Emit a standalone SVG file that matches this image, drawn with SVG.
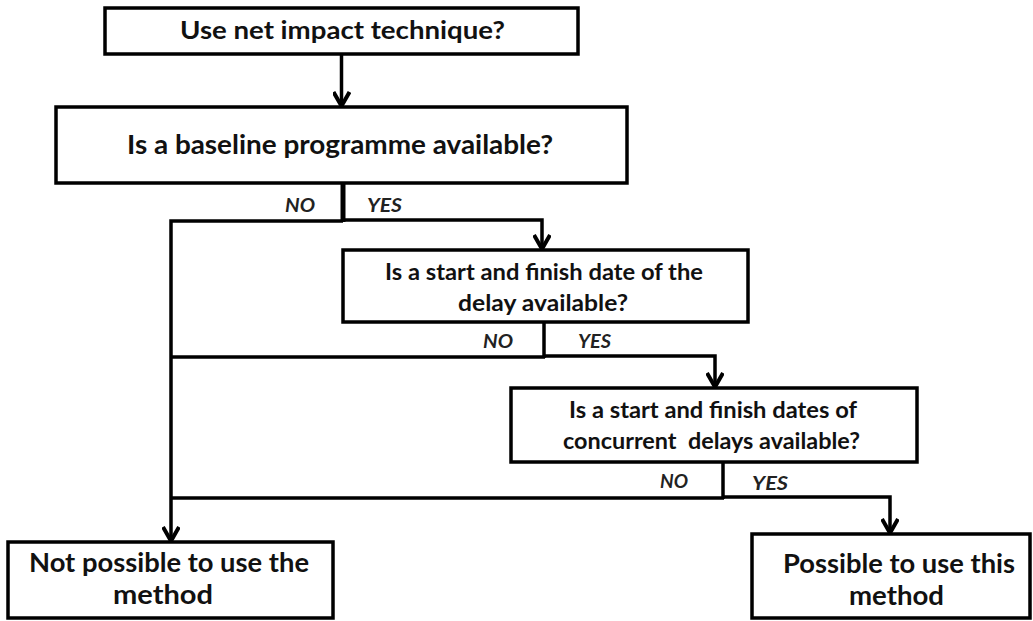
<svg xmlns="http://www.w3.org/2000/svg" width="1033" height="621" viewBox="0 0 1033 621">
  <style>
    .box { fill: #ffffff; stroke: #000000; stroke-width: 3.5; }
    .t { font-family: Lato, "Liberation Sans", sans-serif; font-weight: bold; fill: #111111; text-anchor: middle; white-space: pre; }
    .lbl { font-family: Lato, "Liberation Sans", sans-serif; font-weight: bold; font-style: italic; font-size: 18px; fill: #222222; }
    .wire { fill: none; stroke: #000000; stroke-width: 3.5; stroke-linejoin: miter; }
    .drop { stroke-width: 5; }
  </style>
  <defs>
    <marker id="arr" viewBox="0 0 18 18" markerWidth="18" markerHeight="18" refX="16" refY="9" orient="auto" markerUnits="userSpaceOnUse">
      <path d="M2,1 L16,9 L2,17" fill="none" stroke="#000000" stroke-width="4"/>
    </marker>
  </defs>
  <rect width="1033" height="621" fill="#ffffff"/>

  <g id="connectors">
    <line class="wire" x1="341.5" y1="55" x2="341.5" y2="106" marker-end="url(#arr)"/>
    <line class="wire drop" x1="343" y1="183" x2="343" y2="222"/>
    <polyline class="wire" points="343,221 171,221 171,541" marker-end="url(#arr)"/>
    <polyline class="wire" points="343,220 542,220 542,249" marker-end="url(#arr)"/>
    <line class="wire" x1="544" y1="322" x2="544" y2="358"/>
    <line class="wire" x1="545" y1="357" x2="171" y2="357"/>
    <polyline class="wire" points="544,356 715,356 715,387" marker-end="url(#arr)"/>
    <line class="wire" x1="723" y1="462" x2="723" y2="499"/>
    <line class="wire" x1="724" y1="498" x2="171" y2="498"/>
    <polyline class="wire" points="723,497 890,497 890,533" marker-end="url(#arr)"/>
    <text class="lbl" x="285" y="212" textLength="30" lengthAdjust="spacingAndGlyphs">NO</text>
    <text class="lbl" x="367" y="212" textLength="35" lengthAdjust="spacingAndGlyphs">YES</text>
    <text class="lbl" x="483" y="348" textLength="30" lengthAdjust="spacingAndGlyphs">NO</text>
    <text class="lbl" x="578" y="348" textLength="33" lengthAdjust="spacingAndGlyphs">YES</text>
    <text class="lbl" x="660" y="488" textLength="28" lengthAdjust="spacingAndGlyphs">NO</text>
    <text class="lbl" x="752" y="490" textLength="36" lengthAdjust="spacingAndGlyphs">YES</text>
  </g>

  <g id="start">
    <rect class="box" x="105" y="8" width="473" height="46"/>
    <text class="t" x="342.5" y="39" font-size="24" textLength="325" lengthAdjust="spacingAndGlyphs">Use net impact technique?</text>
  </g>

  <g id="baseline">
    <rect class="box" x="56" y="107" width="571" height="76"/>
    <text class="t" x="340" y="154" font-size="26" textLength="426" lengthAdjust="spacingAndGlyphs">Is a baseline programme available?</text>
  </g>

  <g id="delay-dates">
    <rect class="box" x="343" y="250" width="405" height="72"/>
    <text class="t" x="544" y="280" font-size="22.5" textLength="318" lengthAdjust="spacingAndGlyphs">Is a start and finish date of the</text>
    <text class="t" x="543" y="311" font-size="22.5" textLength="170" lengthAdjust="spacingAndGlyphs">delay available?</text>
  </g>

  <g id="concurrent-dates">
    <rect class="box" x="511" y="388" width="406" height="74"/>
    <text class="t" x="713" y="418" font-size="22.5" textLength="288" lengthAdjust="spacingAndGlyphs">Is a start and finish dates of</text>
    <text class="t" x="711.5" y="449" font-size="22.5" textLength="297" lengthAdjust="spacingAndGlyphs">concurrent  delays available?</text>
  </g>

  <g id="not-possible">
    <rect class="box" x="8" y="542" width="325" height="76"/>
    <text class="t" x="169" y="572" font-size="26.5" textLength="280" lengthAdjust="spacingAndGlyphs">Not possible to use the</text>
    <text class="t" x="163" y="604" font-size="26.5" textLength="100" lengthAdjust="spacingAndGlyphs">method</text>
  </g>

  <g id="possible">
    <rect class="box" x="752" y="534" width="278" height="84"/>
    <text class="t" x="899" y="573" font-size="26.5" textLength="232" lengthAdjust="spacingAndGlyphs">Possible to use this</text>
    <text class="t" x="896.5" y="605" font-size="26.5" textLength="95" lengthAdjust="spacingAndGlyphs">method</text>
  </g>
</svg>
